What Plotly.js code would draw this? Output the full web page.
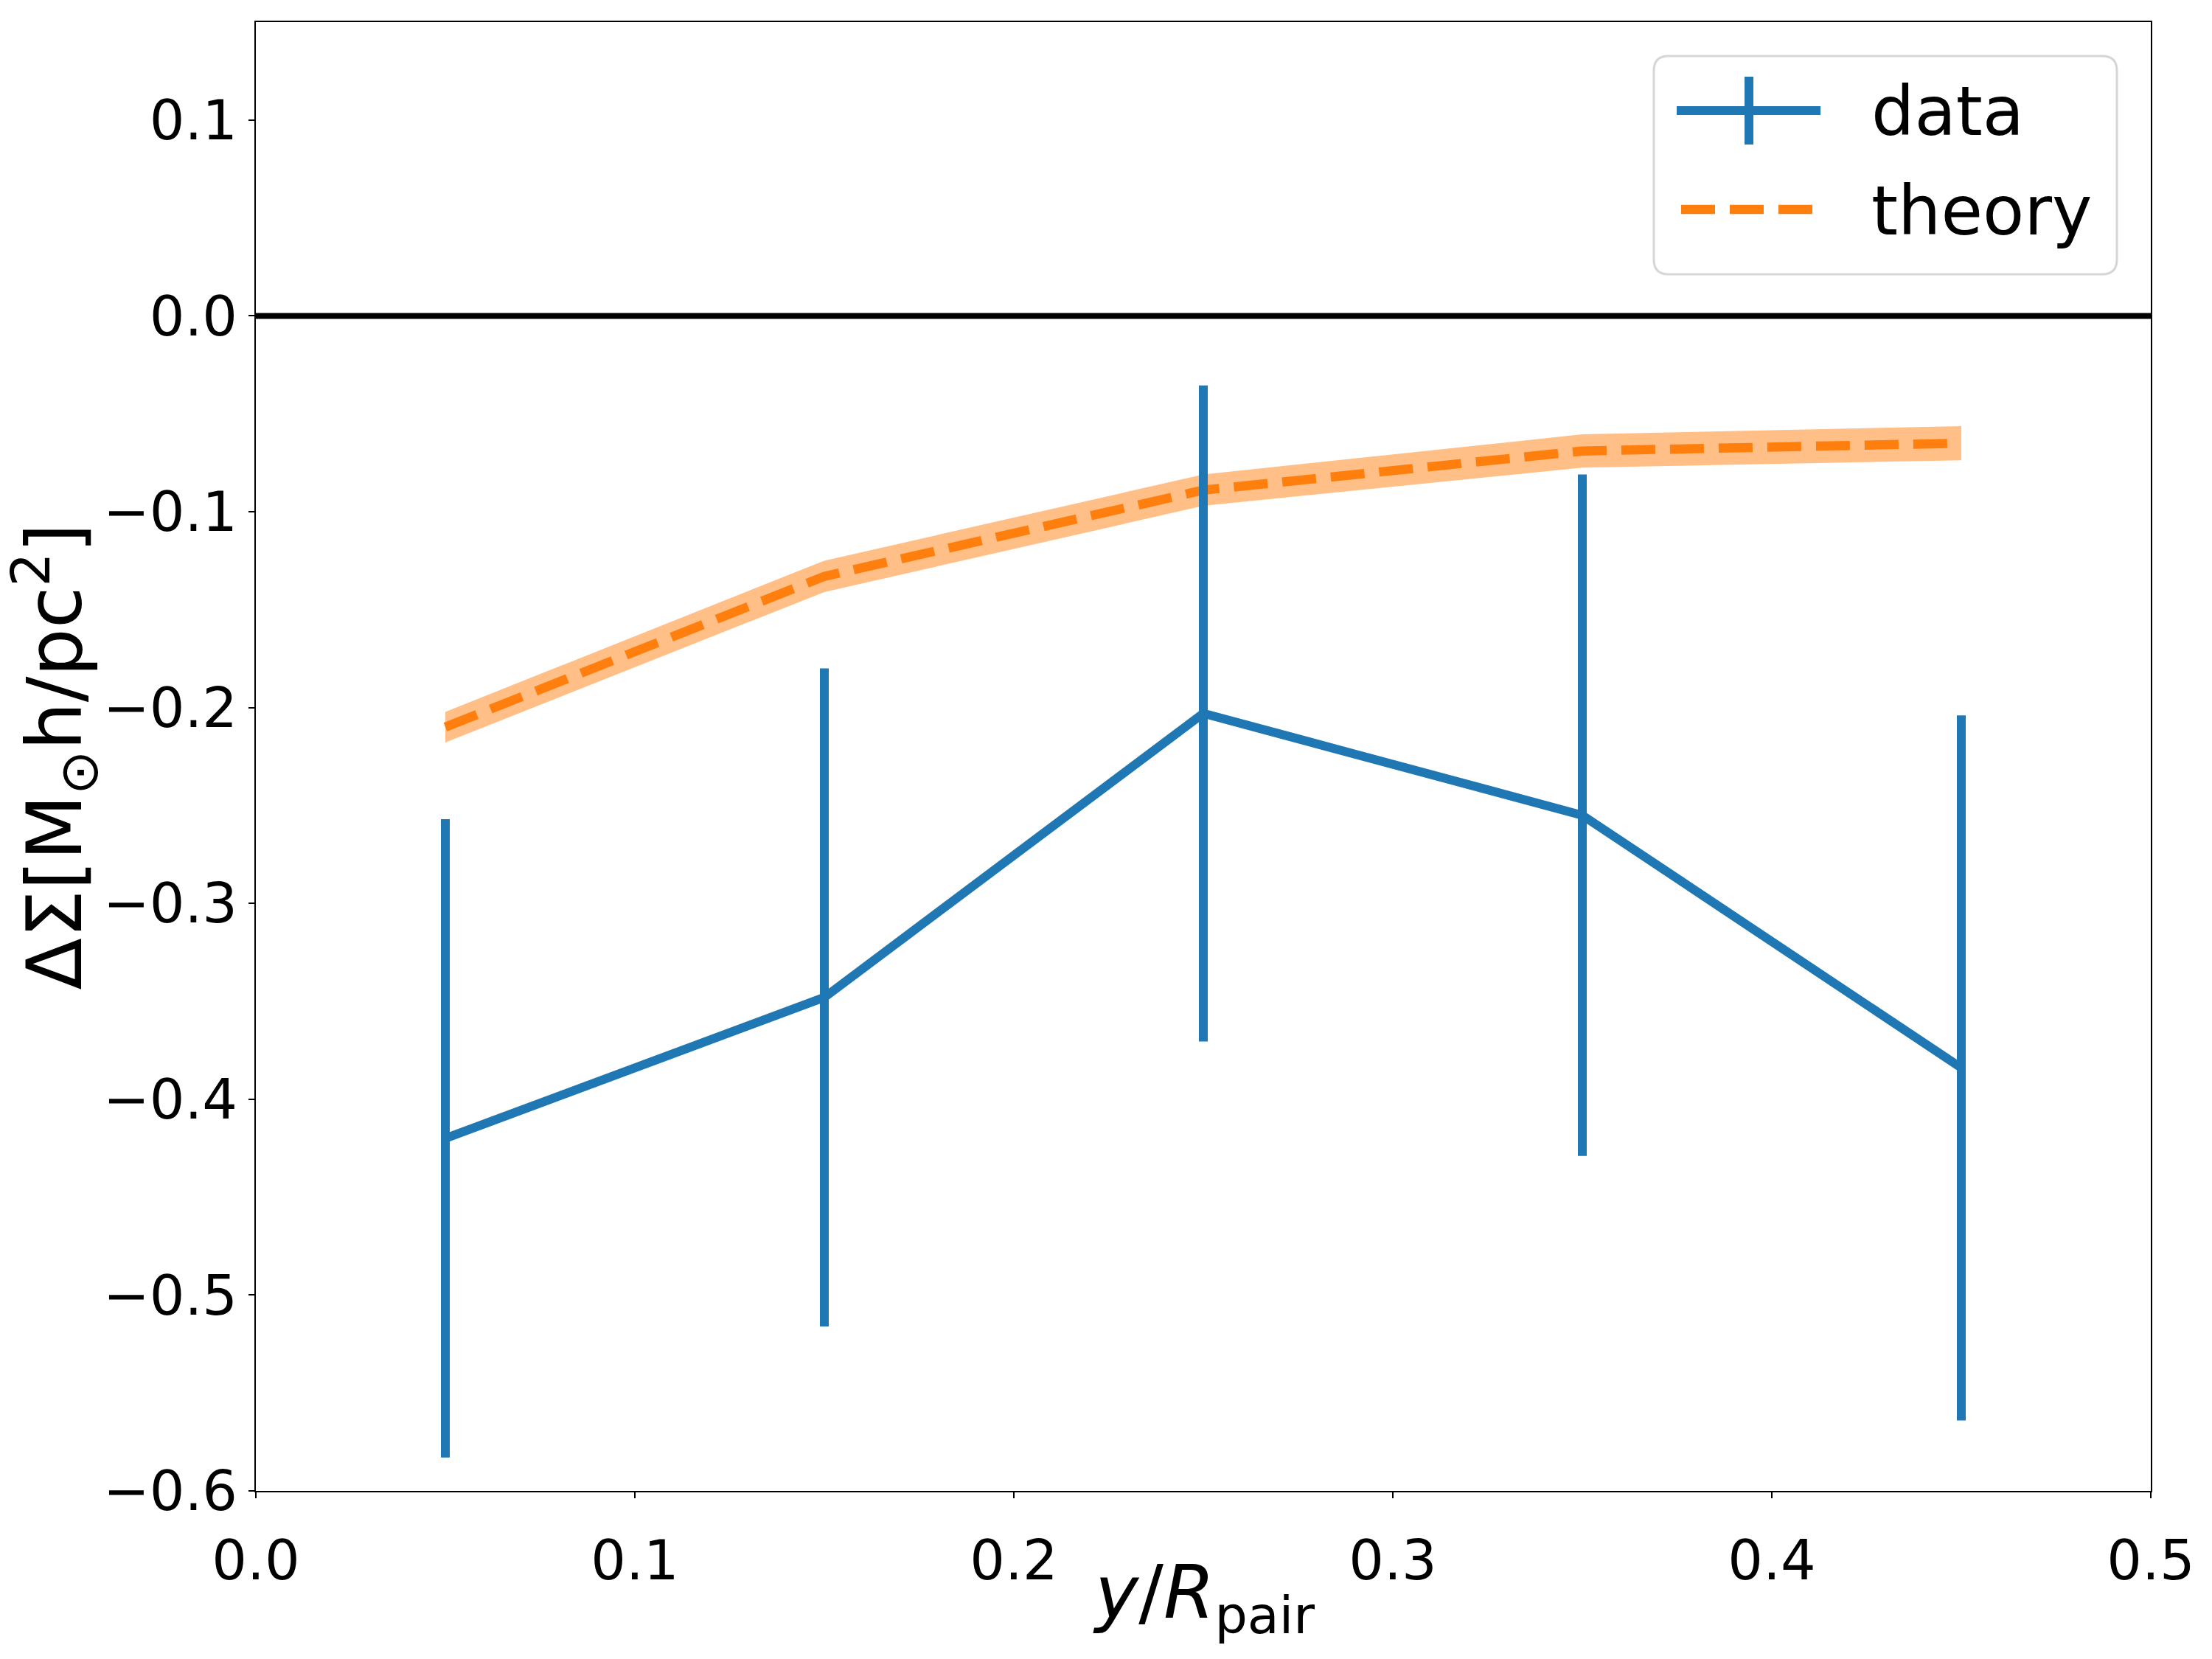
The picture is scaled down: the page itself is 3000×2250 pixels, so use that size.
<!DOCTYPE html>
<html>
<head>
<meta charset="utf-8">
<script src="https://cdn.plot.ly/plotly-3.0.1.min.js"></script>
<style>html,body{margin:0;padding:0;background:#fff;}</style>
</head>
<body>
<div id="chart" style="width:3000px;height:2250px;"></div>
<script>
// ---- data ----
const xBins = [0.05, 0.15, 0.25, 0.35, 0.45];
const dataY = [-0.420, -0.348, -0.203, -0.255, -0.384];
const dataErr = [0.163, 0.168, 0.1675, 0.174, 0.180];
const theoryY = [-0.210, -0.133, -0.089, -0.069, -0.065];
const theoryErr = [0.0078, 0.008, 0.008, 0.0085, 0.0087];
const legendLabels = ["data", "theory"];
const xTicks = [0, 0.1, 0.2, 0.3, 0.4, 0.5];
const yTicks = [-0.6, -0.5, -0.4, -0.3, -0.2, -0.1, 0.0, 0.1];
const xTitle = "<i>y</i>/<i>R</i><sub>pair</sub>";
const yTitle = "ΔΣ[M<sub>⊙</sub>h/pc<sup>2</sup>]";

const BLUE = "#1f77b4";
const ORANGE = "#ff7f0e";
const FONT = "DejaVu Sans";

const lower = theoryY.map((v, i) => v - theoryErr[i]);
const upper = theoryY.map((v, i) => v + theoryErr[i]);

const traces = [
  {x: xBins, y: lower, type: "scatter", mode: "lines", line: {width: 0, color: "rgba(0,0,0,0)"}, showlegend: false, hoverinfo: "skip"},
  {x: xBins, y: upper, type: "scatter", mode: "lines", fill: "tonexty", fillcolor: "rgba(255,127,14,0.5)", line: {width: 0, color: "rgba(0,0,0,0)"}, showlegend: false, hoverinfo: "skip"},
  {x: xBins, y: theoryY, type: "scatter", mode: "lines", name: legendLabels[1], line: {color: ORANGE, width: 12.5, dash: "46px,20px"}, showlegend: false},
  {x: xBins, y: dataY, type: "scatter", mode: "lines", name: legendLabels[0], line: {color: BLUE, width: 12}, showlegend: false,
   error_y: {type: "data", array: dataErr, visible: true, color: BLUE, thickness: 12, width: 0}}
];

// plot-area geometry in pixels, used to place the hand-drawn legend
const L = 347, R = 83, T = 30, B = 228, W = 3000, H = 2250;
const pw = W - L - R, ph = H - T - B;
const px = v => (v - L) / pw;
const py = v => (H - B - v) / ph;

function roundRect(x0, y0, x1, y1, r) {
  const a = px(x0), b = px(x1), c = py(y0), d = py(y1);
  const rx = r / pw, ry = r / ph;
  return `M ${a + rx},${c} L ${b - rx},${c} Q ${b},${c} ${b},${c - ry} L ${b},${d + ry} Q ${b},${d} ${b - rx},${d} L ${a + rx},${d} Q ${a},${d} ${a},${d + ry} L ${a},${c - ry} Q ${a},${c} ${a + rx},${c} Z`;
}

const shapes = [
  {type: "line", xref: "paper", yref: "y", x0: 0, x1: 1, y0: 0, y1: 0, line: {color: "black", width: 8}},
  {type: "path", xref: "paper", yref: "paper", path: roundRect(2243, 76, 2871, 372, 20), fillcolor: "rgba(255,255,255,0.8)", line: {color: "#d6d6d6", width: 3}},
  {type: "line", xref: "paper", yref: "paper", x0: px(2274), x1: px(2469), y0: py(150), y1: py(150), line: {color: BLUE, width: 12}},
  {type: "line", xref: "paper", yref: "paper", x0: px(2372), x1: px(2372), y0: py(104), y1: py(196), line: {color: BLUE, width: 12}},
  {type: "line", xref: "paper", yref: "paper", x0: px(2280), x1: px(2459), y0: py(284), y1: py(284), line: {color: ORANGE, width: 12.5, dash: "46px,20px"}}
];

const annotations = [
  {xref: "paper", yref: "paper", x: px(2536), y: py(152), xanchor: "left", yanchor: "middle", text: legendLabels[0], showarrow: false, font: {family: FONT, size: 92, color: "black"}},
  {xref: "paper", yref: "paper", x: px(2536), y: py(286), xanchor: "left", yanchor: "middle", text: legendLabels[1], showarrow: false, font: {family: FONT, size: 92, color: "black"}},
  {xref: "paper", yref: "paper", x: 0.5, y: py(2166), xanchor: "center", yanchor: "middle", text: xTitle, showarrow: false, font: {family: FONT, size: 100, color: "black"}}
];

const axisCommon = {
  showline: true, mirror: true, linecolor: "black", linewidth: 2,
  ticks: "outside", ticklen: 8, tickwidth: 2, tickcolor: "black",
  showgrid: false, zeroline: false, automargin: false,
  tickfont: {family: FONT, size: 75, color: "black"}, tickformat: ".1f"
};

const layout = {
  width: W, height: H,
  margin: {l: L, r: R, t: T, b: B, pad: 0},
  paper_bgcolor: "white", plot_bgcolor: "white",
  font: {family: FONT, color: "black"},
  showlegend: false,
  xaxis: Object.assign({}, axisCommon, {
    range: [0, 0.5], tickvals: xTicks, ticklabelstandoff: 20
  }),
  yaxis: Object.assign({}, axisCommon, {
    range: [-0.6, 0.15], tickvals: yTicks,
    title: {text: yTitle, font: {family: FONT, size: 103, color: "black"}, standoff: 15}
  }),
  shapes: shapes,
  annotations: annotations
};

Plotly.newPlot("chart", traces, layout, {displayModeBar: false, staticPlot: true});
</script>
</body>
</html>
